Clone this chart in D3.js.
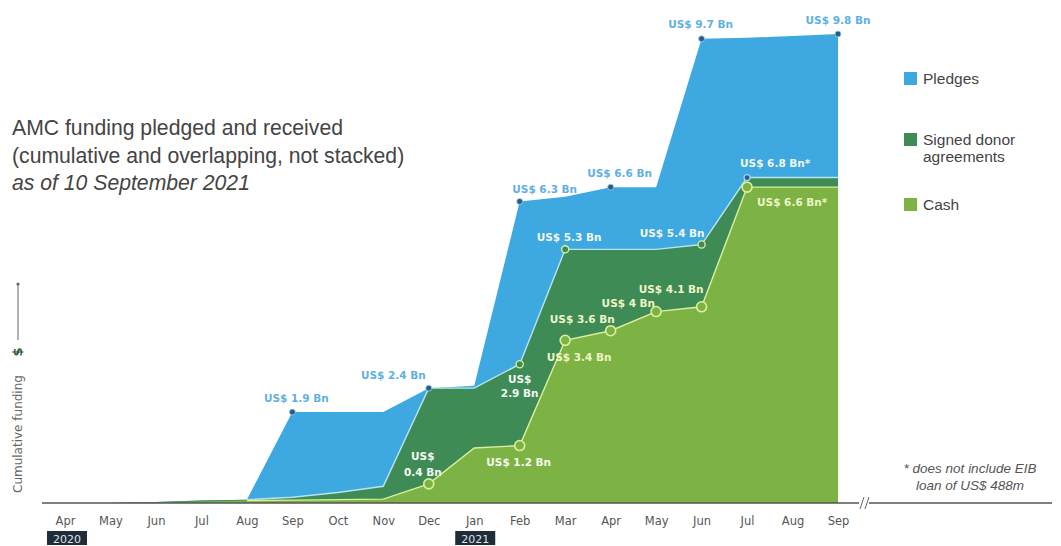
<!DOCTYPE html>
<html><head><meta charset="utf-8">
<script src="https://cdn.jsdelivr.net/npm/d3@7"></script>
<style>
html,body{margin:0;padding:0;background:#fff;}
svg{display:block;}
</style></head>
<body>
<svg id="c" width="1061" height="546"></svg>
<script>
// ---- data ----
const months = ["Apr","May","Jun","Jul","Aug","Sep","Oct","Nov","Dec","Jan","Feb","Mar","Apr","May","Jun","Jul","Aug","Sep"];
const yearTicks = ["2020","2021"];
const yearTickIndex = [0, 9];
const pledges = [0,0,0.02,0.05,0.07,1.9,1.9,1.9,2.4,2.45,6.3,6.4,6.6,6.6,9.7,9.72,9.76,9.8];
const signed  = [0,0,0.02,0.05,0.07,0.12,0.22,0.35,2.4,2.4,2.9,5.3,5.3,5.3,5.4,6.8,6.8,6.8];
const cash    = [0,0,0.01,0.03,0.05,0.06,0.07,0.08,0.4,1.15,1.2,3.4,3.6,4.0,4.1,6.6,6.6,6.6];
const pledgeLabelIdx = [5,8,10,12,14,17];
const signedLabelIdx = [10,11,14,15];
const cashLabelIdx   = [8,10,11,12,13,14,15];
const seriesNames = ["Pledges","Signed donor agreements","Cash"];
const footnote = ["* does not include EIB","loan of US$ 488m"];
const titleLines = ["AMC funding pledged and received","(cumulative and overlapping, not stacked)","as of 10 September 2021"];

// ---- layout (label offsets relative to their point) ----
const pledgeLayout = {5:{dx:4,dy:-10,a:"middle"},8:{dx:-3,dy:-9,a:"end"},10:{dx:25,dy:-9,a:"middle"},12:{dx:9,dy:-10,a:"middle"},14:{dx:-1,dy:-11,a:"middle"},17:{dx:0,dy:-10,a:"middle"}};
const signedLayout = {10:{dx:0,dy:19,a:"middle",split:true},11:{dx:4,dy:-8,a:"middle"},14:{dx:3,dy:-8,a:"end"},15:{dx:-7,dy:-11,a:"start",star:true}};
const cashLayout = {8:{dx:-6,dy:-8,a:"middle",split:true,up:true},10:{dx:-1,dy:20,a:"middle"},11:{dx:14,dy:21,a:"middle"},12:{dx:4,dy:-8,a:"end"},13:{dx:-1,dy:-5,a:"end"},14:{dx:2,dy:-14,a:"end"},15:{dx:10,dy:19,a:"start",star:true}};

const C = {blue:"#3ea8e0", dark:"#3f8b56", light:"#7db344", blueLbl:"#5fb0e2", signedLine:"#b9e3ee", cashLine:"#dcef9e"};

const svg = d3.select("#c");
const x = d3.scaleLinear().domain([0, months.length-1]).range([65, 838]);
const y = d3.scaleLinear().domain([0, 9.8]).range([503, 34]);

const area = d3.area().x((d,i)=>x(i)).y0(y(0)).y1(d=>y(d));

svg.append("path").datum(pledges).attr("d", area).attr("fill", C.blue);
svg.append("path").datum(signed).attr("d", area).attr("fill", C.dark);
svg.append("path").datum(cash).attr("d", area).attr("fill", C.light);
svg.append("path").datum(signed.slice(4)).attr("d", d3.line().x((d,i)=>x(i+4)).y(d=>y(d)))
  .attr("fill","none").attr("stroke", C.signedLine).attr("stroke-width",1.4);
svg.append("path").datum(cash.slice(4)).attr("d", d3.line().x((d,i)=>x(i+4)).y(d=>y(d)))
  .attr("fill","none").attr("stroke", C.cashLine).attr("stroke-width",1.4);

// baseline axis
svg.append("line").attr("x1",42).attr("x2",859).attr("y1",y(0)).attr("y2",y(0)).attr("stroke","#555").attr("stroke-width",1.6);
svg.append("line").attr("x1",869).attr("x2",1052).attr("y1",y(0)).attr("y2",y(0)).attr("stroke","#555").attr("stroke-width",1.3);
[860,865].forEach(bx=>svg.append("line").attr("x1",bx).attr("x2",bx+4).attr("y1",y(0)+6).attr("y2",y(0)-6).attr("stroke","#666").attr("stroke-width",1));

const xAxis = d3.axisBottom(x).tickValues(d3.range(months.length)).tickFormat(i=>months[i]).tickSize(0).tickPadding(14);
const gx = svg.append("g").attr("transform",`translate(0,${y(0)})`).call(xAxis);
gx.select(".domain").remove();
gx.selectAll("text").attr("font-family","DejaVu Sans, sans-serif").attr("font-size",11.5).attr("fill","#555");

yearTicks.forEach((t,k)=>{
  const cx = x(yearTickIndex[k]) - (k===0?-2:-1);
  svg.append("rect").attr("x",cx-20).attr("y",531).attr("width",40).attr("height",14).attr("fill","#1f2c39");
  svg.append("text").attr("x",cx).attr("y",542.5).attr("text-anchor","middle")
    .attr("font-family","DejaVu Sans, sans-serif").attr("font-size",11).attr("fill","#dfe3e6").text(t);
});

// dots
svg.selectAll(".pd").data(pledgeLabelIdx).enter().append("circle")
  .attr("cx",i=>x(i)).attr("cy",i=>y(pledges[i])).attr("r",3).attr("fill","#2b5c86").attr("stroke","#9fd3ef").attr("stroke-width",0.8);
svg.selectAll(".sd").data(signedLabelIdx).enter().append("circle")
  .attr("cx",i=>x(i)).attr("cy",i=>y(signed[i])).attr("r",i=>i===15?3:3.6)
  .attr("fill",i=>i===15?"#2b5c86":C.dark).attr("stroke",i=>i===15?"#9fd3ef":C.cashLine).attr("stroke-width",1.3);
svg.selectAll(".cd").data(cashLabelIdx).enter().append("circle")
  .attr("cx",i=>x(i)).attr("cy",i=>y(cash[i])).attr("r",5).attr("fill",C.light).attr("stroke",C.cashLine).attr("stroke-width",1.6);

// labels
function fmt(v){ return (Math.round(v*10)/10).toString(); }
function addLabel(series, i, L, color){
  const px = x(i)+L.dx, py = y(series[i])+L.dy;
  const t = svg.append("text").attr("text-anchor",L.a).attr("font-family","DejaVu Sans, sans-serif")
    .attr("font-weight","bold").attr("font-size",10.5).attr("fill",color);
  const val = fmt(series[i]) + " Bn" + (L.star?"*":"");
  if (L.split){
    if (L.up){
      t.append("tspan").attr("x",px).attr("y",py-16).text("US$");
      t.append("tspan").attr("x",px).attr("y",py).text(val);
    } else {
      t.append("tspan").attr("x",px).attr("y",py).text("US$");
      t.append("tspan").attr("x",px).attr("y",py+14).text(val);
    }
  } else {
    t.attr("x",px).attr("y",py).text("US$ " + val);
  }
}
pledgeLabelIdx.forEach(i=>addLabel(pledges,i,pledgeLayout[i],C.blueLbl));
signedLabelIdx.forEach(i=>addLabel(signed,i,signedLayout[i],"#f1f7f1"));
cashLabelIdx.forEach(i=>addLabel(cash,i,cashLayout[i], i===10||i===8?"#f6f9ee":"#eff5c6"));

// title
titleLines.forEach((s,k)=>{
  svg.append("text").attr("x",12).attr("y",135+k*27.5).attr("font-family","Liberation Sans, Arial, sans-serif")
    .attr("font-size",21.2).attr("font-style",k===2?"italic":"normal").attr("fill","#444").text(s);
});

// legend
const legColors=[C.blue,C.dark,C.light];
const legY=[72,133,198];
seriesNames.forEach((n,k)=>{
  svg.append("rect").attr("x",904).attr("y",legY[k]).attr("width",13).attr("height",13).attr("fill",legColors[k]);
  const t = svg.append("text").attr("font-family","Liberation Sans, Arial, sans-serif").attr("font-size",15.5).attr("fill","#444");
  if (k===1){
    t.append("tspan").attr("x",923).attr("y",legY[k]+12).text("Signed donor");
    t.append("tspan").attr("x",923).attr("y",legY[k]+29).text("agreements");
  } else t.attr("x",923).attr("y",legY[k]+12).text(n);
});

// footnote
footnote.forEach((s,k)=>{
  svg.append("text").attr("x",970).attr("y",473+k*17).attr("text-anchor","middle")
    .attr("font-family","Liberation Sans, Arial, sans-serif").attr("font-style","italic").attr("font-size",13.5).attr("fill","#555").text(s);
});

// y label
svg.append("text").attr("transform","translate(22,493) rotate(-90)").attr("font-family","DejaVu Sans, sans-serif")
  .attr("font-size",12).attr("fill","#666").text("Cumulative funding");
svg.append("text").attr("transform","translate(22,352) rotate(-90)").attr("text-anchor","middle").attr("font-family","DejaVu Sans, sans-serif")
  .attr("font-size",13).attr("font-weight","bold").attr("fill","#2f5a3c").text("$");
svg.append("line").attr("x1",18).attr("x2",18).attr("y1",340).attr("y2",284).attr("stroke","#666").attr("stroke-width",1);
svg.append("circle").attr("cx",18).attr("cy",284).attr("r",1.6).attr("fill","#666");
</script>
</body></html>
